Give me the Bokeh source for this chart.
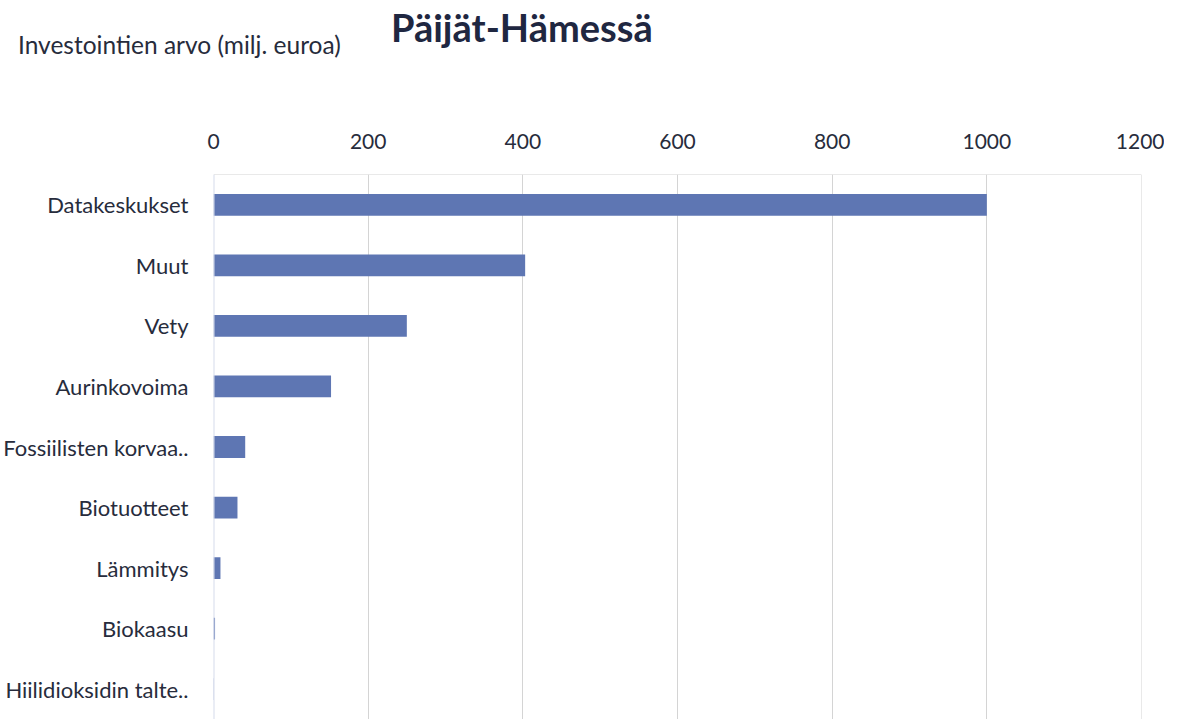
from bokeh.plotting import figure
from bokeh.layouts import column
from bokeh.models import Range1d, FactorRange, FixedTicker, Span, Div
from bokeh.embed import file_html
from bokeh.resources import INLINE

categories = ["Datakeskukset", "Muut", "Vety", "Aurinkovoima", "Fossiilisten korvaa..",
              "Biotuotteet", "Lämmitys", "Biokaasu", "Hiilidioksidin talte.."]
values = [1000, 403, 250, 152, 41, 31, 9, 2, 0.5]
x_ticks = [0, 200, 400, 600, 800, 1000, 1200]
title_text = "Päijät-Hämessä"
subtitle_text = "Investointien arvo (milj. euroa)"

FONT = "Lato"
TXT = "#272c3c"
W = 1164
TOP_H = 110

header_html = (
    f"<div style='position:relative;width:{W}px;height:{TOP_H}px;font-family:Lato,sans-serif;'>"
    f"<span style='position:absolute;left:18px;top:30px;font-size:24.5px;line-height:30px;"
    f"color:{TXT};white-space:nowrap;'>{subtitle_text}</span>"
    f"<span style='position:absolute;left:391px;top:4px;font-size:38px;line-height:46px;"
    f"font-weight:bold;color:#1f2741;white-space:nowrap;'>{title_text}</span>"
    f"</div>"
)
head = Div(text=header_html, width=W, height=TOP_H, margin=0)

p = figure(width=W, height=719 - TOP_H, output_backend="svg", toolbar_location=None,
           x_range=Range1d(0, 1200),
           y_range=FactorRange(factors=categories[::-1], range_padding=0),
           x_axis_location="above", min_border_left=211, min_border_right=W - 1141,
           min_border_top=174 - TOP_H, min_border_bottom=0)

p.hbar(y=categories, right=values, left=0, height=0.36,
       fill_color="#5e76b3", line_color=None)

p.outline_line_color = None
p.background_fill_color = "white"
p.border_fill_color = "white"

ya = p.yaxis[0]
ya.axis_line_color = None
ya.major_tick_line_color = None
ya.minor_tick_line_color = None
ya.major_label_standoff = 19
ya.major_label_text_font = FONT
ya.major_label_text_font_size = "22px"
ya.major_label_text_color = TXT
p.ygrid.visible = False
p.xgrid.grid_line_color = "#d4d4d4"
p.xgrid.grid_line_width = 1

xa = p.xaxis[0]
xa.ticker = FixedTicker(ticks=x_ticks)
xa.axis_line_color = None
xa.major_tick_line_color = None
xa.minor_tick_line_color = None
xa.major_label_standoff = 20
xa.major_label_text_font = FONT
xa.major_label_text_font_size = "21px"
xa.major_label_text_color = TXT

p.add_layout(Span(location=1200, dimension="height", line_color="#d4d4d4", line_width=1))
p.add_layout(Span(location=9, dimension="width", line_color="#d4d4d4", line_width=1))
p.add_layout(Span(location=0, dimension="height", line_color="#d6dbeb", line_width=2))

layout = column(head, p, spacing=0)
open("out.html", "w").write(file_html(layout, INLINE))
